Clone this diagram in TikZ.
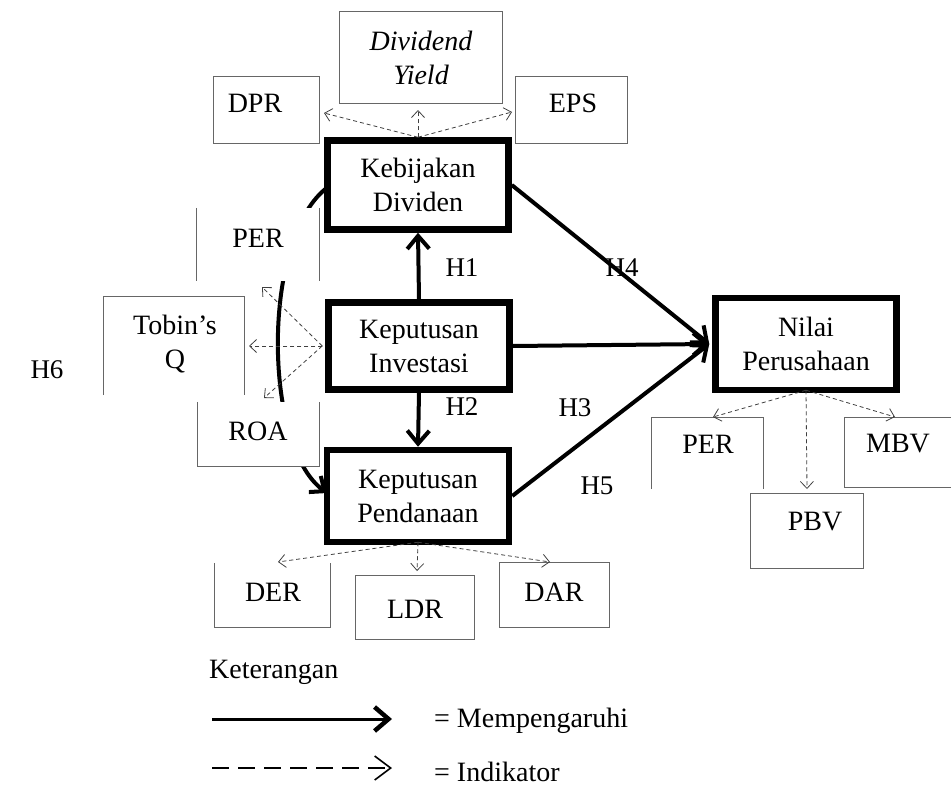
\documentclass[tikz,border=0pt]{standalone}
\usepackage{fontspec}
\setmainfont{Liberation Serif}
\usetikzlibrary{arrows.meta}
\begin{document}
\begin{tikzpicture}[x=1pt,y=-1pt,
  every node/.style={font=\fontsize{28}{34}\selectfont, inner sep=0pt, align=center},
  mainbox/.style={draw, line width=6.5pt, fill=white},
  smallbox/.style={fill=white},
  thinline/.style={draw=black!60, line width=1pt},
  infl/.style={line width=4pt, -{Straight Barb[length=13pt,width=22pt]}},
  indic/.style={draw=black!75, line width=0.8pt, dash pattern=on 4pt off 3pt,
    -{Straight Barb[length=7pt,width=13pt,line width=0.8pt]}},
  hlabel/.style={font=\fontsize{27}{30}\selectfont}
]
\useasboundingbox (0,0) rectangle (951,787);

% curved relation (H6)
\draw[line width=4pt, -{Straight Barb[length=12pt,width=20pt]}]
  (328,187) .. controls (262,235) and (262,445) .. (327,493);

% small indicator boxes
\node[smallbox, minimum width=162pt, minimum height=91pt] (dy) at (421,57.5) {};
\node[smallbox, minimum width=105pt, minimum height=66pt] (dpr) at (266.5,110) {};
\node[smallbox, minimum width=111pt, minimum height=66pt] (eps) at (571.5,110) {};
\node[smallbox, minimum width=122pt, minimum height=73pt] (perl) at (258,244.5) {};
\node[smallbox, minimum width=140pt, minimum height=98pt] (tq) at (174,346) {};
\node[smallbox, minimum width=121pt, minimum height=64pt] (roa) at (258.5,434) {};
\node[smallbox, minimum width=111pt, minimum height=71pt] (perr) at (707.5,453.5) {};
\node[smallbox, minimum width=106pt, minimum height=69pt] (mbv) at (898,452.5) {};
\node[smallbox, minimum width=112pt, minimum height=74pt] (pbv) at (807,531) {};
\node[smallbox, minimum width=115pt, minimum height=64pt] (der) at (272.5,595) {};
\node[smallbox, minimum width=118pt, minimum height=63pt] (ldr) at (415,607.5) {};
\node[smallbox, minimum width=109pt, minimum height=64pt] (dar) at (554.5,595) {};

% outlines of small boxes
\draw[thinline] (dy.south west) rectangle (dy.north east);
\draw[thinline] (dpr.south west) rectangle (dpr.north east);
\draw[thinline] (eps.south west) rectangle (eps.north east);
\draw[thinline] (perl.north west) -- (perl.south west) (perl.north east) -- (perl.south east);
\draw[thinline] (tq.south west) -- (tq.north west) -- (tq.north east) -- (tq.south east);
\draw[thinline] (roa.north west) -- (roa.south west) -- (roa.south east) -- (roa.north east);
\draw[thinline] (perr.south west) -- (perr.north west) -- (perr.north east) -- (perr.south east);
\draw[thinline] (mbv.north east) -- (mbv.north west) -- (mbv.south west) -- (mbv.south east);
\draw[thinline] (pbv.south west) rectangle (pbv.north east);
\draw[thinline] (der.north west) -- (der.south west) -- (der.south east) -- (der.north east);
\draw[thinline] (ldr.south west) rectangle (ldr.north east);
\draw[thinline] (dar.south west) rectangle (dar.north east);

% texts of small boxes
\node (dyT) at (421,58) {\itshape Dividend\\\itshape Yield};
\node (dprT) at (255,103) {DPR};
\node (epsT) at (573,103) {EPS};
\node (perlT) at (258,238) {PER};
\node (tqT) at (175,344) {Tobin’s\\Q};
\node (roaT) at (258,431) {ROA};
\node (perrT) at (708,444) {PER};
\node (mbvT) at (898,444) {MBV};
\node (pbvT) at (815,522) {PBV};
\node (derT) at (273,592) {DER};
\node (ldrT) at (415,609) {LDR};
\node (darT) at (554,592) {DAR};

% main boxes
\node[mainbox, minimum width=181pt, minimum height=89pt] (kd) at (418,185) {Kebijakan\\Dividen};
\node[mainbox, minimum width=181pt, minimum height=87pt] (ki) at (419,346) {Keputusan\\Investasi};
\node[mainbox, minimum width=182pt, minimum height=92pt] (kp) at (418,496) {Keputusan\\Pendanaan};
\node[mainbox, minimum width=181pt, minimum height=92pt] (np) at (806,344) {Nilai\\Perusahaan};

% influence arrows
\draw[infl] (ki.north) -- (kd.south);
\draw[infl] (ki.south) -- (kp.north);
\coordinate (npin) at ([xshift=-3pt]np.west);
\draw[infl] (kd.east) -- (npin);
\draw[infl] (ki.east) -- (npin);
\draw[infl] (kp.east) -- (npin);

% indicator arrows
\coordinate (tdpr) at (324,113);
\coordinate (tdy) at (418,110);
\coordinate (teps) at (512,112);
\draw[indic] (kd.north) -- (tdpr);
\draw[indic] (kd.north) -- (tdy);
\draw[indic] (kd.north) -- (teps);

\coordinate (kiw) at ([xshift=-3pt]ki.west);
\coordinate (ttq) at (249,346);
\coordinate (tper) at (262,287);
\coordinate (troa) at (264,398);
\draw[indic] (kiw) -- (ttq);
\draw[indic] (kiw) -- (tper);
\draw[indic] (kiw) -- (troa);

\coordinate (kps) at ([yshift=3pt]kp.south);
\coordinate (tder) at (278,562);
\coordinate (tldr) at (417,571);
\coordinate (tdar) at (550,562);
\draw[indic] (kps) -- (tder);
\draw[indic] (kps) -- (tldr);
\draw[indic] (kps) -- (tdar);

\coordinate (nps) at ([yshift=3pt]np.south);
\coordinate (tperr) at (713,417);
\coordinate (tpbv) at (807,489);
\coordinate (tmbv) at (895,417);
\draw[indic] (nps) -- (tperr);
\draw[indic] (nps) -- (tpbv);
\draw[indic] (nps) -- (tmbv);

% hypothesis labels
\node[hlabel] (h1) at (462,268) {H1};
\node[hlabel] (h2) at (462,407) {H2};
\node[hlabel] (h3) at (575,408) {H3};
\node[hlabel] (h4) at (622,268) {H4};
\node[hlabel] (h5) at (597,486) {H5};
\node[hlabel] (h6) at (47,370) {H6};

% legend
\node[anchor=west] (ket) at (209,672) {Keterangan};
\coordinate (l1s) at (212,719);
\coordinate (l1e) at (392,719);
\draw[line width=3pt, -{Straight Barb[length=14pt,width=24pt,line width=4.5pt]}] (l1s) -- (l1e);
\node[anchor=west] (mem) at (434,721) {= Mempengaruhi};
\coordinate (l2s) at (212,768);
\coordinate (l2e) at (392,768);
\draw[line width=2pt, dash pattern=on 17pt off 9pt, -{Straight Barb[length=16pt,width=24pt,line width=1.6pt]}] (l2s) -- (l2e);
\node[anchor=west] (ind) at (434,772) {= Indikator};
\end{tikzpicture}
\end{document}
